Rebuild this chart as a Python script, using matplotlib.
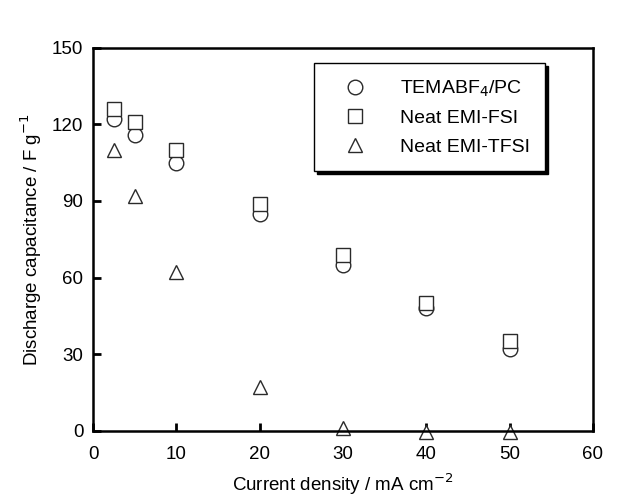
import matplotlib
matplotlib.use('Agg')
import matplotlib.pyplot as plt

plt.rcParams['font.family'] = ['Liberation Sans', 'DejaVu Sans']
plt.rcParams['font.size'] = 13.5

# current density, mA cm-2
current = [2.5, 5, 10, 20, 30, 40, 50]
temabf4_pc = [122, 116, 105, 85, 65, 48, 32]
emi_fsi = [126, 121, 110, 89, 69, 50, 35]
emi_tfsi = [110, 92, 62, 17, 1, -0.5, -0.5]

fig = plt.figure(figsize=(6.17, 4.98), dpi=100)
ax = fig.add_axes([0.151, 0.135, 0.81, 0.769])

style = dict(linestyle='none', markerfacecolor='white', markeredgecolor='#2a2a2a',
             markeredgewidth=1.0, clip_on=False)
ax.plot(current, temabf4_pc, marker='o', markersize=10.5, label='TEMABF$_4$/PC', **style)
ax.plot(current, emi_fsi, marker='s', markersize=10, label='Neat EMI-FSI', **style)
ax.plot(current, emi_tfsi, marker='^', markersize=10, label='Neat EMI-TFSI', **style)

ax.set_xlim(0, 60)
ax.set_ylim(0, 150)
ax.set_xticks(range(0, 61, 10))
ax.set_yticks(range(0, 151, 30))
ax.tick_params(direction='in', length=6, width=2, labelsize=13.5)
ax.tick_params(axis='x', pad=11)
ax.tick_params(axis='y', pad=7)
for s in ax.spines.values():
    s.set_linewidth(1.8)
ax.set_xlabel('Current density / mA cm$^{-2}$', fontsize=13.5, labelpad=6)
ax.set_ylabel('Discharge capacitance / F g$^{-1}$', fontsize=13.5, labelpad=6)

leg = ax.legend(loc='upper right', bbox_to_anchor=(0.905, 0.96), frameon=True, fancybox=False,
                shadow={'color': 'black', 'alpha': 1}, fontsize=14, labelspacing=0.55,
                borderpad=0.8, handletextpad=1.0, borderaxespad=0, handlelength=2.6)
leg.get_frame().set_edgecolor('black')
leg.get_frame().set_linewidth(1.0)

fig.savefig('out.png', dpi=100)
